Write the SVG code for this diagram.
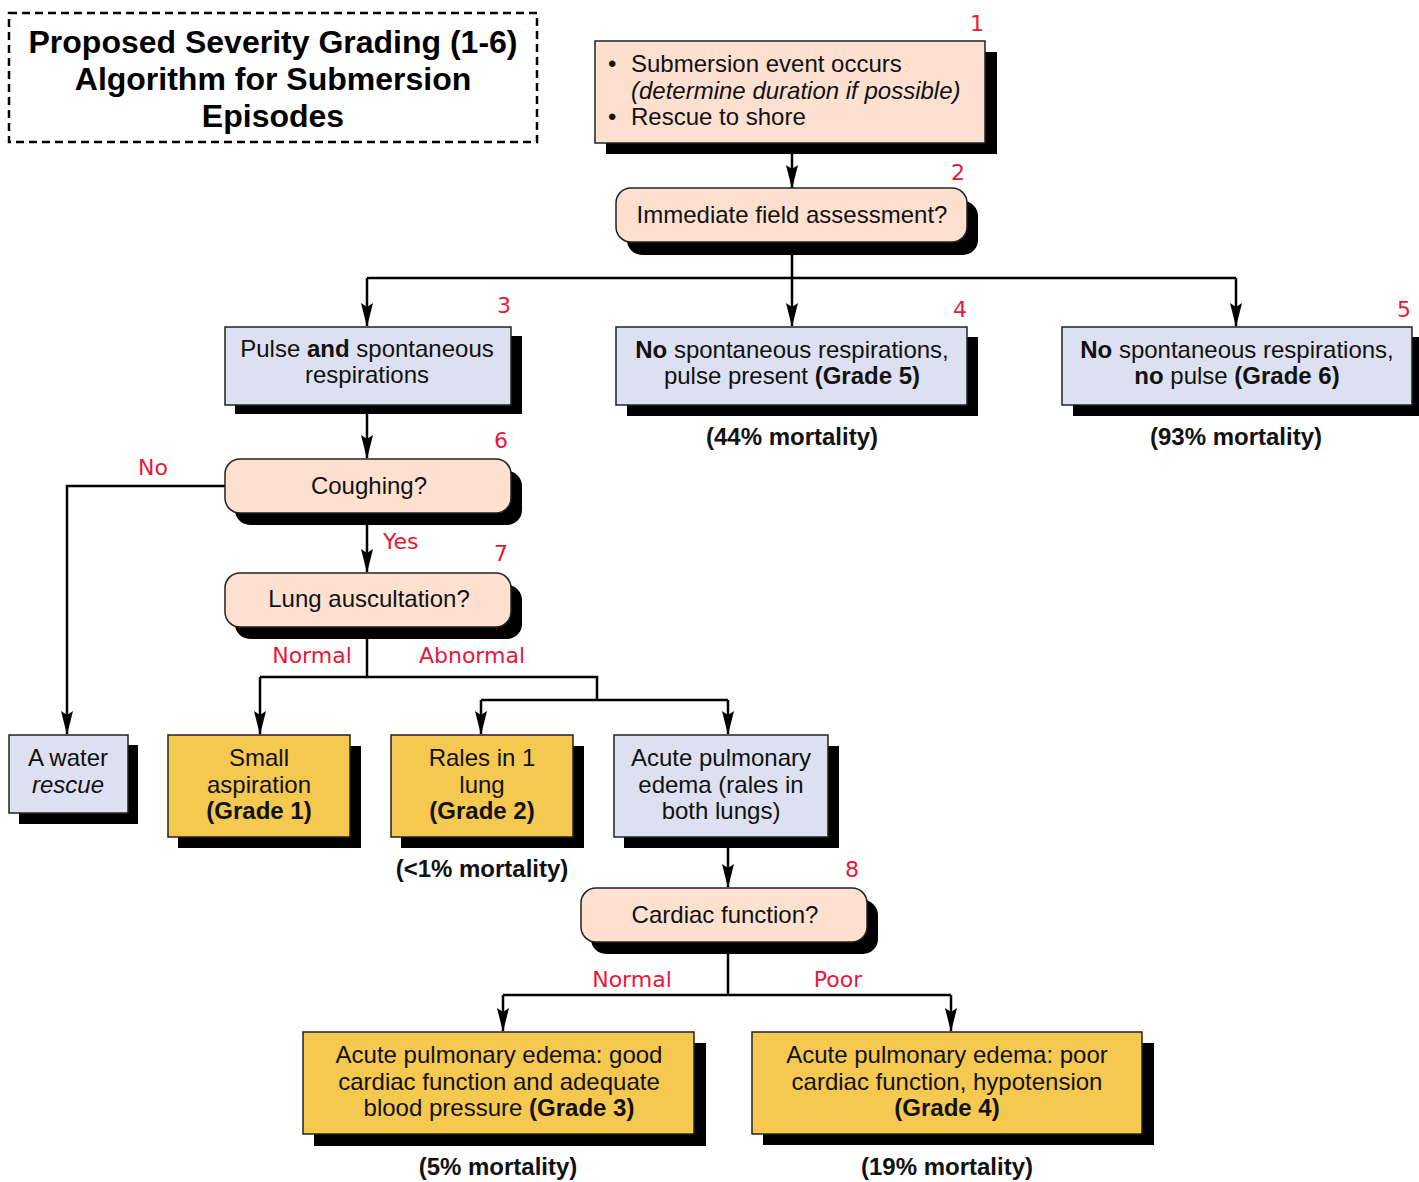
<svg xmlns="http://www.w3.org/2000/svg" width="1419" height="1182" viewBox="0 0 1419 1182">
<defs>
<marker id="arr" viewBox="0 0 24 12" refX="23" refY="6" markerWidth="24" markerHeight="12" markerUnits="userSpaceOnUse" orient="auto">
<path d="M0,0 L24,6 L0,12 L4,6 z" fill="#000"/>
</marker>
<style>
.t{font-family:"Liberation Sans",Arial,sans-serif;font-size:24px;fill:#111}
.c{text-anchor:middle}
.b{font-weight:bold}
.i{font-style:italic}
.r{font-family:"DejaVu Sans",Verdana,sans-serif;font-size:22px;fill:#e8173a}
.sh{fill:#000}
.pe{fill:#fde0cf;stroke:#222;stroke-width:1.5}
.bl{fill:#dce0f0;stroke:#222;stroke-width:1.5}
.ye{fill:#f5c84f;stroke:#222;stroke-width:1.5}
.ln{fill:none;stroke:#000;stroke-width:2.5}
.ar{fill:none;stroke:#000;stroke-width:2.5;marker-end:url(#arr)}
.ttl{font-family:"Liberation Sans",Arial,sans-serif;font-size:32px;font-weight:bold;fill:#000;text-anchor:middle}
</style>
</defs>
<rect width="1419" height="1182" fill="#fff"/>

<g id="title">
<rect x="9" y="13" width="528" height="129" fill="none" stroke="#000" stroke-width="2.5" stroke-dasharray="8,5"/>
<text class="ttl" x="273" y="53">Proposed Severity Grading (1-6)</text>
<text class="ttl" x="273" y="90">Algorithm for Submersion</text>
<text class="ttl" x="273" y="127">Episodes</text>
</g>

<g id="connectors">
<path class="ar" d="M792,143 V188"/>
<path class="ln" d="M792,242 V278 M367,278 H1236"/>
<path class="ar" d="M367,278 V326"/>
<path class="ar" d="M792,278 V326"/>
<path class="ar" d="M1236,278 V326"/>
<path class="ar" d="M367,405 V458"/>
<path class="ar" d="M225,486 H67 V734"/>
<path class="ar" d="M367,513 V572"/>
<path class="ln" d="M367,626 V677 M260,677 H597 V700 M481,700 H728"/>
<path class="ar" d="M260,677 V734"/>
<path class="ar" d="M481,700 V734"/>
<path class="ar" d="M728,700 V734"/>
<path class="ar" d="M728,837 V887"/>
<path class="ln" d="M728,941 V995 M503,995 H951"/>
<path class="ar" d="M503,995 V1031"/>
<path class="ar" d="M951,995 V1031"/>
<text class="r" x="153" y="475" text-anchor="middle">No</text>
<text class="r" x="383" y="549">Yes</text>
<text class="r" x="312" y="663" text-anchor="middle">Normal</text>
<text class="r" x="472" y="663" text-anchor="middle">Abnormal</text>
<text class="r" x="632" y="987" text-anchor="middle">Normal</text>
<text class="r" x="838" y="987" text-anchor="middle">Poor</text>
</g>

<g id="n1">
<rect class="sh" x="606" y="52" width="391" height="102"/>
<rect class="pe" x="595" y="41" width="390" height="102"/>
<text class="t" x="608" y="72">•</text>
<text class="t" x="631" y="72">Submersion event occurs</text>
<text class="t i" x="631" y="99">(determine duration if possible)</text>
<text class="t" x="608" y="125">•</text>
<text class="t" x="631" y="125">Rescue to shore</text>
<text class="r" x="977" y="31" text-anchor="middle">1</text>
</g>

<g id="n2">
<rect class="sh" x="627" y="201" width="351" height="54" rx="15"/>
<rect class="pe" x="616" y="188" width="351" height="54" rx="15"/>
<text class="t c" x="792" y="223">Immediate field assessment?</text>
<text class="r" x="958" y="180" text-anchor="middle">2</text>
</g>

<g id="n3">
<rect class="sh" x="235" y="336" width="287" height="78"/>
<rect class="bl" x="225" y="327" width="286" height="78"/>
<text class="t c" x="367" y="357">Pulse <tspan class="b">and</tspan> spontaneous</text>
<text class="t c" x="367" y="383">respirations</text>
<text class="r" x="504" y="313" text-anchor="middle">3</text>
</g>

<g id="n4">
<rect class="sh" x="627" y="337" width="351" height="79"/>
<rect class="bl" x="616" y="327" width="351" height="78"/>
<text class="t c" x="792" y="358"><tspan class="b">No</tspan> spontaneous respirations,</text>
<text class="t c" x="792" y="384">pulse present <tspan class="b">(Grade 5)</tspan></text>
<text class="t c b" x="792" y="445">(44% mortality)</text>
<text class="r" x="960" y="317" text-anchor="middle">4</text>
</g>

<g id="n5">
<rect class="sh" x="1073" y="337" width="346" height="79"/>
<rect class="bl" x="1062" y="327" width="350" height="78"/>
<text class="t c" x="1237" y="358"><tspan class="b">No</tspan> spontaneous respirations,</text>
<text class="t c" x="1237" y="384"><tspan class="b">no</tspan> pulse <tspan class="b">(Grade 6)</tspan></text>
<text class="t c b" x="1236" y="445">(93% mortality)</text>
<text class="r" x="1404" y="317" text-anchor="middle">5</text>
</g>

<g id="n6">
<rect class="sh" x="235" y="471" width="287" height="54" rx="15"/>
<rect class="pe" x="225" y="459" width="286" height="54" rx="15"/>
<text class="t c" x="369" y="494">Coughing?</text>
<text class="r" x="501" y="448" text-anchor="middle">6</text>
</g>

<g id="n7">
<rect class="sh" x="235" y="585" width="287" height="54" rx="15"/>
<rect class="pe" x="225" y="573" width="286" height="54" rx="15"/>
<text class="t c" x="369" y="607">Lung auscultation?</text>
<text class="r" x="501" y="561" text-anchor="middle">7</text>
</g>

<g id="n_rescue">
<rect class="sh" x="19" y="745" width="119" height="79"/>
<rect class="bl" x="9" y="735" width="119" height="78"/>
<text class="t c" x="68" y="766">A water</text>
<text class="t c i" x="68" y="793">rescue</text>
</g>

<g id="n_g1">
<rect class="sh" x="178" y="746" width="183" height="102"/>
<rect class="ye" x="168" y="735" width="182" height="102"/>
<text class="t c" x="259" y="766">Small</text>
<text class="t c" x="259" y="793">aspiration</text>
<text class="t c b" x="259" y="819">(Grade 1)</text>
</g>

<g id="n_g2">
<rect class="sh" x="401" y="746" width="183" height="102"/>
<rect class="ye" x="391" y="735" width="182" height="102"/>
<text class="t c" x="482" y="766">Rales in 1</text>
<text class="t c" x="482" y="793">lung</text>
<text class="t c b" x="482" y="819">(Grade 2)</text>
<text class="t c b" x="482" y="877">(&lt;1% mortality)</text>
</g>

<g id="n_ape">
<rect class="sh" x="624" y="746" width="215" height="102"/>
<rect class="bl" x="614" y="735" width="214" height="102"/>
<text class="t c" x="721" y="766">Acute pulmonary</text>
<text class="t c" x="721" y="793">edema (rales in</text>
<text class="t c" x="721" y="819">both lungs)</text>
</g>

<g id="n8">
<rect class="sh" x="591" y="900" width="287" height="54" rx="15"/>
<rect class="pe" x="581" y="888" width="286" height="54" rx="15"/>
<text class="t c" x="725" y="923">Cardiac function?</text>
<text class="r" x="852" y="877" text-anchor="middle">8</text>
</g>

<g id="n_g3">
<rect class="sh" x="314" y="1043" width="392" height="103"/>
<rect class="ye" x="303" y="1032" width="391" height="102"/>
<text class="t c" x="499" y="1063">Acute pulmonary edema: good</text>
<text class="t c" x="499" y="1090">cardiac function and adequate</text>
<text class="t c" x="499" y="1116">blood pressure <tspan class="b">(Grade 3)</tspan></text>
<text class="t c b" x="498" y="1175">(5% mortality)</text>
</g>

<g id="n_g4">
<rect class="sh" x="763" y="1043" width="391" height="102"/>
<rect class="ye" x="752" y="1032" width="390" height="102"/>
<text class="t c" x="947" y="1063">Acute pulmonary edema: poor</text>
<text class="t c" x="947" y="1090">cardiac function, hypotension</text>
<text class="t c b" x="947" y="1116">(Grade 4)</text>
<text class="t c b" x="947" y="1175">(19% mortality)</text>
</g>
</svg>
